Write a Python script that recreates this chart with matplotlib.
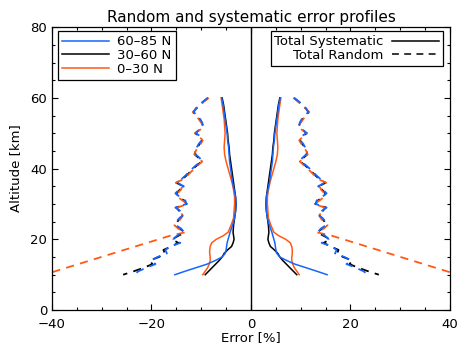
import numpy as np
import matplotlib
matplotlib.use("Agg")
import matplotlib.pyplot as plt
from matplotlib.lines import Line2D
from matplotlib.ticker import MultipleLocator

# systematic error profiles (magnitude, %), mirrored on both sides
alt_sys = [60, 58, 56, 54, 52, 50, 48, 46, 44, 42, 40, 38, 36, 34, 32, 30,
           28, 26, 24, 22, 21, 20, 19, 18, 17, 16, 15, 14, 13, 12, 11, 10]
sys_6085 = [5.9, 5.6, 5.4, 5.2, 5.0, 4.8, 4.7, 4.5, 4.4, 4.3, 4.1, 3.9, 3.7, 3.4, 3.1, 3.0,
            3.1, 3.3, 3.7, 4.2, 4.4, 4.6, 4.8, 4.9, 5.0, 5.2, 5.8, 7.2, 8.8, 11.0, 13.2, 15.3]
sys_3060 = [5.8, 5.5, 5.3, 5.1, 4.9, 4.7, 4.6, 4.4, 4.3, 4.1, 3.9, 3.7, 3.5, 3.3, 3.1, 3.0,
            3.1, 3.3, 3.5, 3.6, 3.5, 3.4, 3.6, 3.9, 4.7, 5.4, 5.8, 6.4, 7.1, 7.8, 8.5, 9.2]
sys_030 = [6.0, 5.8, 5.6, 5.4, 5.3, 5.2, 5.3, 5.4, 5.3, 5.0, 4.6, 4.2, 3.8, 3.5, 3.3, 3.3,
           3.4, 3.5, 4.0, 4.6, 5.6, 7.0, 7.9, 8.2, 8.3, 8.3, 8.2, 8.2, 8.4, 8.7, 9.2, 9.7]

# random error profiles (magnitude, %)
alt_rand = [60, 59, 58, 57, 56, 55, 54, 53, 52, 51, 50, 49, 48, 47, 46, 45, 44, 43, 42,
            41, 40, 39, 38, 37, 36, 35, 34, 33, 32, 31, 30, 29, 28, 27, 26, 25, 24, 23,
            22, 21, 20, 19, 18, 17, 16, 15, 14, 13, 12, 11, 10]
rand_3060 = [8.6, 9.5, 10.3, 11.0, 11.6, 11.0, 10.4, 9.9, 9.6, 10.3, 11.2, 10.2, 9.8,
             10.3, 10.8, 11.2, 11.3, 10.5, 9.9, 10.8, 11.6, 12.3, 13.0, 13.8, 15.0, 13.6,
             14.3, 15.0, 14.5, 13.5, 12.9, 15.0, 14.4, 13.6, 14.2, 14.8, 15.3, 14.3, 13.3,
             14.6, 15.9, 14.6, 16.0, 17.6, 17.3, 18.5, 20.4, 19.8, 21.5, 23.5, 25.7]
rand_6085 = [8.7, 9.6, 10.4, 11.1, 11.5, 10.9, 10.2, 9.8, 9.7, 10.5, 11.1, 10.0, 9.9,
             10.5, 10.9, 11.3, 11.1, 10.3, 10.0, 11.0, 11.8, 12.5, 13.2, 14.0, 14.8, 13.5,
             14.5, 15.2, 14.3, 13.2, 13.0, 15.2, 14.2, 13.4, 14.4, 15.0, 15.1, 14.0, 13.5,
             14.9, 15.6, 14.2, 16.3, 17.2, 16.9, 18.8, 20.1, 19.2, 21.0, 22.6, 23.5]
rand_030 = [8.5, 9.4, 10.2, 11.0, 11.7, 11.1, 10.5, 10.0, 9.5, 10.2, 11.3, 10.4, 9.7,
            10.1, 10.7, 11.1, 11.4, 10.6, 9.8, 10.6, 11.4, 12.1, 12.8, 13.6, 15.1, 13.8,
            14.1, 14.8, 14.7, 13.8, 12.7, 14.8, 14.6, 13.8, 14.0, 14.6, 15.4, 14.6, 13.2,
            16.3, 18.6, 20.9, 23.2, 25.5, 27.8, 30.1, 32.4, 34.7, 37.0, 39.3, 41.6]

blue = "#1565ff"
black = "black"
orange = "#ff5a14"

fig = plt.figure(figsize=(4.58, 3.48), dpi=100)
ax = fig.add_axes([0.1135, 0.109, 0.869, 0.813])

series = [(sys_3060, rand_3060, black), (sys_030, rand_030, orange),
          (sys_6085, rand_6085, blue)]
for s, r, c in series:
    s = np.array(s)
    r = np.array(r)
    ax.plot(-s, alt_sys, color=c, lw=1.1)
    ax.plot(s, alt_sys, color=c, lw=1.1)
    ax.plot(-r, alt_rand, color=c, lw=1.3, dashes=(4.5, 3.5))
    ax.plot(r, alt_rand, color=c, lw=1.3, dashes=(4.5, 3.5))

ax.axvline(0, color="black", lw=1.0)

ax.set_xlim(-40, 40)
ax.set_ylim(0, 80)
ax.xaxis.set_major_locator(MultipleLocator(20))
ax.xaxis.set_minor_locator(MultipleLocator(5))
ax.yaxis.set_major_locator(MultipleLocator(20))
ax.yaxis.set_minor_locator(MultipleLocator(5))
ax.tick_params(which="both", direction="in", top=True, right=True, labelsize=9.5)
ax.tick_params(which="major", length=4.5, width=0.8)
ax.tick_params(which="minor", length=2.5, width=0.8)
ax.tick_params(axis="x", which="major", pad=6)
for sp in ax.spines.values():
    sp.set_linewidth(0.9)

ax.set_xlabel("Error [%]", fontsize=9.5, labelpad=0)
ax.set_ylabel("Altitude [km]", fontsize=9.5, labelpad=6)
ax.set_title("Random and systematic error profiles", fontsize=11, pad=4)

h1 = [Line2D([], [], color=blue, lw=1.1), Line2D([], [], color=black, lw=1.1),
      Line2D([], [], color=orange, lw=1.1)]
leg1 = ax.legend(h1, ["60\u201385 N", "30\u201360 N", "0\u201330 N"],
                 loc="upper left", bbox_to_anchor=(0.015, 0.985), fontsize=9.5,
                 frameon=True, fancybox=False, edgecolor="black", framealpha=1,
                 handlelength=3.6, handletextpad=0.6, labelspacing=0.05,
                 borderpad=0.3, borderaxespad=0)
leg1.get_frame().set_linewidth(0.9)
ax.add_artist(leg1)

h2 = [Line2D([], [], color="black", lw=1.1),
      Line2D([], [], color="black", lw=1.1, dashes=(4.5, 3.5))]
leg2 = ax.legend(h2, ["Total Systematic", "Total Random"],
                 loc="upper right", bbox_to_anchor=(0.983, 0.985), fontsize=9.5,
                 frameon=True, fancybox=False, edgecolor="black", framealpha=1,
                 markerfirst=False, handlelength=3.6, handletextpad=0.6,
                 labelspacing=0.05, borderpad=0.3, borderaxespad=0)
leg2.get_frame().set_linewidth(0.9)

fig.savefig("out.png", dpi=100)
